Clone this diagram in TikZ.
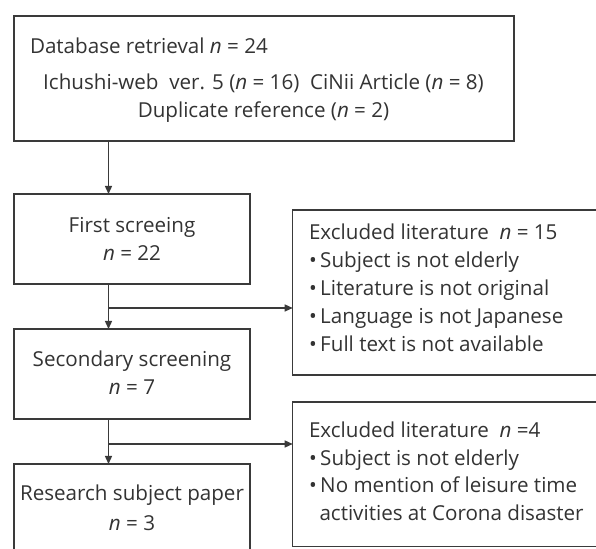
\documentclass[tikz,border=0pt]{standalone}
\usepackage{fontspec}
\setmainfont{Open Sans}
\usetikzlibrary{arrows.meta}
\definecolor{ink}{HTML}{333333}
\definecolor{frame}{HTML}{3A3A3A}
\tikzset{
  boxn/.style={draw=frame, line width=1.3pt, inner sep=0pt, outer sep=0pt},
  txt/.style={inner sep=0pt, outer sep=0pt, text=ink, font=\fontsize{20.6}{25}\selectfont},
  arr/.style={draw=frame, line width=1.3pt, -{Triangle[length=8pt,width=7pt]}}
}
\begin{document}
\begin{tikzpicture}[x=1pt,y=1pt]
\useasboundingbox (0,0) rectangle (596,548);
\clip (0,0) rectangle (596,548);
\fill[white] (0,0) rectangle (596,548);
% boxes
\node[boxn, minimum width=500, minimum height=125] (top) at (264,469.5) {};
\node[boxn, minimum width=236, minimum height=90] (first) at (132,309) {};
\node[boxn, minimum width=236, minimum height=90] (second) at (132,174) {};
\node[boxn, minimum width=236, minimum height=104] (res) at (132,32) {};
\node[boxn, minimum width=317.3, minimum height=165] (ex1) at (451.35,255.5) {};
\node[boxn, minimum width=317.3, minimum height=144.7] (ex2) at (451.35,73.65) {};
% texts
\node[txt, anchor=base west] (t1) at (30,494) {Database retrieval \textit{n} = 24};
\node[txt, anchor=base] (t2) at (263.5,458) {Ichushi-web\ \ ver. 5 (\textit{n} = 16)\ \ CiNii Article (\textit{n} = 8)};
\node[txt, anchor=base] (t3) at (263.5,430) {Duplicate reference (\textit{n} = 2)};
\node[txt, anchor=base] (f1) at (132,315.3) {First screeing};
\node[txt, anchor=base] (f2) at (132,287) {\textit{n} = 22};
\node[txt, anchor=base] (s1) at (132,181.3) {Secondary screening};
\node[txt, anchor=base] (s2) at (132,153) {\textit{n} = 7};
\node[txt, anchor=base] (r1) at (132,47) {Research subject paper};
\node[txt, anchor=base] (r2) at (132,18) {\textit{n} = 3};
\node[txt, anchor=base west] (e1) at (309,308) {Excluded literature\ \ \textit{n} = 15};
\node[txt, anchor=base west] (e2) at (309,280) {•\hspace{3.5pt}Subject is not elderly};
\node[txt, anchor=base west] (e3) at (309,252) {•\hspace{3.5pt}Literature is not original};
\node[txt, anchor=base west] (e4) at (309,224) {•\hspace{3.5pt}Language is not Japanese};
\node[txt, anchor=base west] (e5) at (309,196) {•\hspace{3.5pt}Full text is not available};
\node[txt, anchor=base west] (g1) at (309,110) {Excluded literature\ \ \textit{n} =4};
\node[txt, anchor=base west] (g2) at (309,82.5) {•\hspace{3.5pt}Subject is not elderly};
\node[txt, anchor=base west] (g3) at (309,55) {•\hspace{3.5pt}No mention of leisure time};
\node[txt, anchor=base west] (g4) at (319.5,27.5) {activities at Corona disaster};
% connectors
\coordinate (spine) at (108.5,0);
\coordinate (b1) at (108.5,240);
\coordinate (b2) at (108.5,104);
\draw[arr] (top.south -| spine) -- (first.north -| spine);
\draw[arr] (first.south -| spine) -- (second.north -| spine);
\draw[arr] (second.south -| spine) -- (res.north -| spine);
\draw[arr] (b1) -- (b1 -| ex1.west);
\draw[arr] (b2) -- (b2 -| ex2.west);
\end{tikzpicture}
\end{document}
